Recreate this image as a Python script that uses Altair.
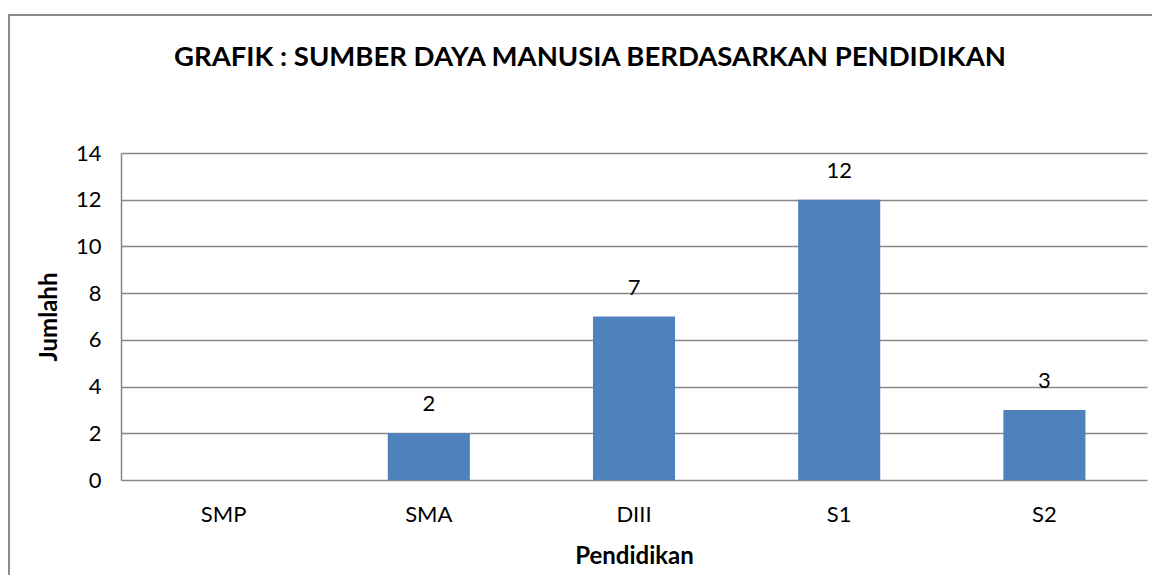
import altair as alt
import pandas as pd

categories = ["SMP", "SMA", "DIII", "S1", "S2"]
values = [0, 2, 7, 12, 3]
y_ticks = [0, 2, 4, 6, 8, 10, 12, 14]
title_text = "GRAFIK : SUMBER DAYA MANUSIA BERDASARKAN PENDIDIKAN"
x_title = "Pendidikan"
y_title = "Jumlahh"

df = pd.DataFrame({"Pendidikan": categories, "Jumlah": values})
FONT = "Lato"
PLOT_W, PLOT_H = 1026, 327

x_enc = alt.X("Pendidikan:N", sort=categories, title=x_title,
              scale=alt.Scale(paddingInner=0.6, paddingOuter=0.3),
              axis=alt.Axis(labelAngle=0, labelFontSize=22, labelFont=FONT,
                            labelColor="#000000", labelPadding=24, ticks=False,
                            domain=False, titleFontSize=24, titleFont=FONT,
                            titleFontWeight="bold", titleColor="#000000",
                            titlePadding=19))
y_enc = alt.Y("Jumlah:Q", title=y_title,
              scale=alt.Scale(domain=[0, 14], nice=False),
              axis=alt.Axis(values=y_ticks, labelFontSize=22, labelFont=FONT,
                            labelColor="#000000", labelPadding=20, ticks=False,
                            domain=True, domainColor="#888888", domainWidth=1.5,
                            grid=True, gridColor="#888888", gridWidth=1.5,
                            titleFontSize=24, titleFont=FONT,
                            titleFontWeight="bold", titleColor="#000000",
                            titlePadding=14))

frame = alt.Chart(df).mark_rect(fill=None, stroke="#8c8c8c", strokeWidth=2,
                                clip=False).encode(
    x=alt.value(-112), x2=alt.value(PLOT_W + 60),
    y=alt.value(-138), y2=alt.value(PLOT_H + 140))

title_mark = alt.Chart(pd.DataFrame({"t": [title_text]})).mark_text(
    fontSize=27.5, font=FONT, fontWeight="bold", color="#000000",
    align="center", baseline="alphabetic").encode(
    x=alt.value(PLOT_W / 2 - 44), y=alt.value(-87), text="t:N")

bars = alt.Chart(df).mark_bar(color="#4F81BD").encode(x=x_enc, y=y_enc)

labels = alt.Chart(df).transform_filter("datum.Jumlah > 0").mark_text(
    dy=-29, fontSize=22, font=FONT, color="#000000", baseline="middle").encode(
    x=alt.X("Pendidikan:N", sort=categories),
    y="Jumlah:Q", text="Jumlah:Q")

chart = alt.layer(frame, title_mark, bars, labels).properties(
    width=PLOT_W, height=PLOT_H,
    autosize=alt.AutoSizeParams(type="none"),
    padding={"left": 113, "top": 145, "right": 5, "bottom": 110},
).configure_view(stroke=None)

chart.save("out.html", embed_options={"renderer": "svg", "actions": False})
